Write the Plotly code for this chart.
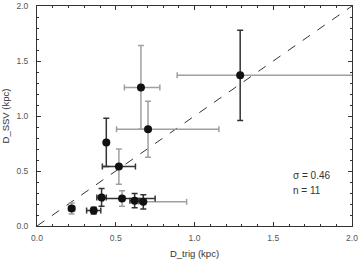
import plotly.graph_objects as go

# data
d_trig = [0.22, 0.36, 0.41, 0.54, 0.62, 0.675, 0.44, 0.52, 0.66, 0.705, 1.29]
d_ssv = [0.16, 0.14, 0.26, 0.25, 0.23, 0.22, 0.76, 0.54, 1.26, 0.88, 1.37]
xerr_minus = [0.02, 0.045, 0.03, 0.12, 0.03, 0.03, 0.01, 0.105, 0.105, 0.2, 0.4]
xerr_plus = [0.02, 0.045, 0.03, 0.21, 0.03, 0.275, 0.01, 0.105, 0.12, 0.45, 0.8]
yerr = [0.05, 0.03, 0.08, 0.07, 0.065, 0.065, 0.22, 0.16, 0.38, 0.255, 0.41]
xerr_style = ["g", "k", "k", "k", "k", "g", "k", "k", "g", "g", "g"]
yerr_style = ["g", "k", "k", "g", "k", "k", "k", "g", "g", "g", "k"]
tick_vals = [0, 0.5, 1.0, 1.5, 2.0]
tick_text = ["0.0", "0.5", "1.0", "1.5", "2.0"]
sigma_text = "σ = 0.46"
n_text = "n = 11"

GRAY = "#a0a0a0"
DARK = "#333333"
cmap = {"g": GRAY, "k": DARK}

fig = go.Figure()

fig.add_trace(go.Scatter(x=[0, 2], y=[0, 2], mode="lines",
                         line=dict(color="#333333", width=1, dash="dash"),
                         hoverinfo="skip", showlegend=False))

for key in ["g", "k"]:
    idx = [i for i, s in enumerate(xerr_style) if s == key]
    fig.add_trace(go.Scatter(
        x=[d_trig[i] for i in idx], y=[d_ssv[i] for i in idx], mode="markers",
        marker=dict(size=1, color="rgba(0,0,0,0)"),
        error_x=dict(type="data", symmetric=False,
                     array=[xerr_plus[i] for i in idx],
                     arrayminus=[xerr_minus[i] for i in idx],
                     color=cmap[key], thickness=1.5, width=3),
        showlegend=False))
    idy = [i for i, s in enumerate(yerr_style) if s == key]
    fig.add_trace(go.Scatter(
        x=[d_trig[i] for i in idy], y=[d_ssv[i] for i in idy], mode="markers",
        marker=dict(size=1, color="rgba(0,0,0,0)"),
        error_y=dict(type="data", array=[yerr[i] for i in idy],
                     color=cmap[key], thickness=1.5, width=3),
        showlegend=False))

fig.add_trace(go.Scatter(x=d_trig, y=d_ssv, mode="markers",
                         marker=dict(size=8, color="#111111"),
                         showlegend=False))

fig.add_annotation(x=1.61, y=0.455, xref="x", yref="y", text=sigma_text,
                   showarrow=False, xanchor="left", yanchor="middle",
                   font=dict(size=10, color="#333333"))
fig.add_annotation(x=1.61, y=0.32, xref="x", yref="y", text=n_text,
                   showarrow=False, xanchor="left", yanchor="middle",
                   font=dict(size=10, color="#333333"))

axis_common = dict(
    range=[0, 2], showgrid=False, zeroline=False, showline=True,
    linecolor="#333333", linewidth=1, mirror="allticks",
    ticks="inside", ticklen=4, tickcolor="#333333",
    tickvals=tick_vals, ticktext=tick_text,
    tickfont=dict(size=8.5, color="#555555"),
    minor=dict(ticks="inside", ticklen=2, dtick=0.1, tickcolor="#333333"),
    automargin=False,
)

fig.update_layout(
    width=361, height=263,
    margin=dict(l=37, r=9, t=6, b=37),
    plot_bgcolor="white", paper_bgcolor="white",
    font=dict(family="Liberation Sans, Arial, sans-serif", size=9, color="#333333"),
    xaxis=dict(**axis_common, ticklabelstandoff=4,
               title=dict(text="D_trig (kpc)", standoff=8, font=dict(size=9.5))),
    yaxis=dict(**axis_common, ticklabelstandoff=6,
               title=dict(text="D_SSV (kpc)", standoff=14, font=dict(size=9.5))),
)

fig.write_html("out.html", config={"displayModeBar": False},
               post_script="document.body.style.margin='0';document.body.style.overflow='hidden';")
